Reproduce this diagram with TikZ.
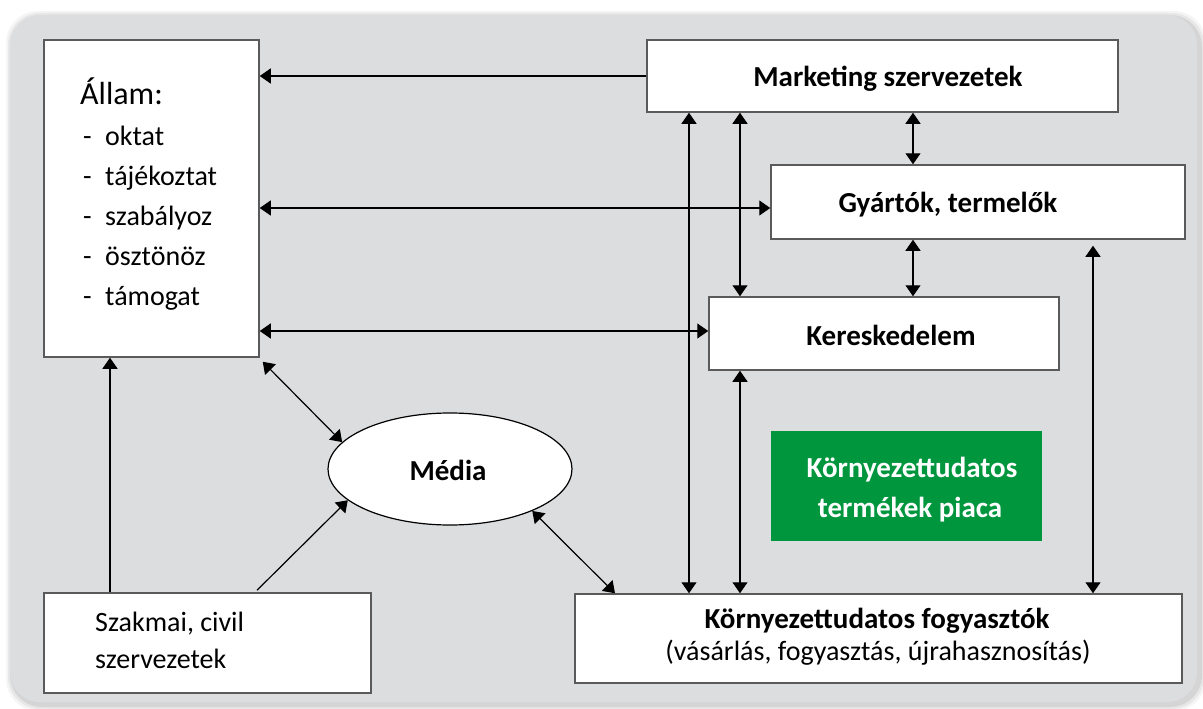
\documentclass[tikz,border=0pt]{standalone}
\usepackage{fontspec}
\setmainfont{Carlito}
\usetikzlibrary{arrows.meta,shapes.geometric}
\definecolor{panelgray}{RGB}{220,221,223}
\definecolor{boxline}{RGB}{90,90,90}
\definecolor{piacgreen}{RGB}{0,150,62}
\tikzset{
  box/.style={draw=boxline, line width=1.5pt, fill=white, inner sep=0pt},
  arr/.style={line width=1.2pt, -{Triangle[length=11pt,width=15pt]}},
  darr/.style={line width=1.2pt, {Triangle[length=11pt,width=15pt]}-{Triangle[length=11pt,width=15pt]}},
  txt/.style={font=\fontsize{28}{34}\selectfont, inner sep=0pt},
  btxt/.style={font=\fontsize{29}{34}\selectfont\bfseries, inner sep=0pt},
}
\newcommand{\dashitem}[1]{\makebox[22pt][l]{-}#1}

\begin{document}
\begin{tikzpicture}[x=1pt, y=-1pt]
\useasboundingbox (0,0) rectangle (1203,709);

% panel with soft shadow
\foreach \s/\o in {7/0.04,5/0.06,3/0.08}
  \fill[black, opacity=\o, rounded corners=32pt] (10-\s+3,15-\s+3) rectangle (1197+\s+2,702+\s+2);
\fill[panelgray, rounded corners=30pt] (10,15) rectangle (1197,702);

% boxes
\node[box, minimum width=215pt, minimum height=317pt] (allam) at (151.5,198.5) {};
\node[box, minimum width=471pt, minimum height=72pt] (mark) at (882.5,76) {};
\node[box, minimum width=414pt, minimum height=74pt] (gyart) at (978,202) {};
\node[box, minimum width=350pt, minimum height=73pt] (keres) at (884,333.5) {};
\node[fill=piacgreen, inner sep=0pt, minimum width=271pt, minimum height=110pt] (piac) at (906.5,486) {};
\node[box, ellipse, draw=black, line width=1.2pt, minimum width=244pt, minimum height=112pt] (media) at (450,469) {};
\node[box, minimum width=327pt, minimum height=100pt] (szak) at (207.5,643) {};
\node[box, minimum width=607pt, minimum height=89pt] (fogy) at (878.5,638.5) {};

% texts
\node[txt, font=\fontsize{32}{38}\selectfont, anchor=base west] (allam-t) at (80,105) {Állam:};
\node[txt, anchor=base west] (allam-1) at (83,145) {\dashitem{oktat}};
\node[txt, anchor=base west] (allam-2) at (83,185) {\dashitem{tájékoztat}};
\node[txt, anchor=base west] (allam-3) at (83,225) {\dashitem{szabályoz}};
\node[txt, anchor=base west] (allam-4) at (83,265) {\dashitem{ösztönöz}};
\node[txt, anchor=base west] (allam-5) at (83,305) {\dashitem{támogat}};

\node[btxt, anchor=base] (mark-t) at (888,87) {Marketing szervezetek};
\node[btxt, anchor=base] (gyart-t) at (948,212) {Gyártók, termelők};
\node[btxt, anchor=base] (keres-t) at (891,345) {Kereskedelem};
\node[btxt, anchor=base] (media-t) at (448,480) {Média};
\node[btxt, anchor=base, text=white] (piac-t1) at (912,477) {Környezettudatos};
\node[btxt, anchor=base, text=white] (piac-t2) at (910,517) {termékek piaca};
\node[btxt, anchor=base] (fogy-t1) at (877,628) {Környezettudatos fogyasztók};
\node[txt, anchor=base] (fogy-t2) at (878,660) {(vásárlás, fogyasztás, újrahasznosítás)};
\node[txt, anchor=base west] (szak-t1) at (95,631) {Szakmai, civil};
\node[txt, anchor=base west] (szak-t2) at (95,668) {szervezetek};

% connectors
\draw[arr] (mark.west) -- (allam.east |- mark.west);
\draw[darr] (allam.east |- 0,208) -- (gyart.west |- 0,208);
\draw[darr] (allam.east |- 0,331) -- (keres.west |- 0,331);
\draw[darr] ([shift={(3,4)}]allam.south east) -- (media.166.5);
\draw[arr] (szak.north -| 110,0) -- (allam.south -| 110,0);
\draw[arr] ([yshift=2pt]szak.north -| 257,0) -- (media.197.6);
\draw[darr] (media.333.7) -- (fogy.north -| 615,0);
\draw[darr] (fogy.north -| 689,0) -- (mark.south -| 689,0);
\draw[darr] (mark.south -| 740,0) -- (keres.north -| 740,0);
\draw[darr] (keres.south -| 740,0) -- (fogy.north -| 740,0);
\draw[darr] (mark.south -| 913,0) -- (gyart.north -| 913,0);
\draw[darr] (gyart.south -| 913,0) -- (keres.north -| 913,0);
\draw[darr] ([yshift=-6pt]gyart.south -| 1093,0) -- (fogy.north -| 1093,0);
\end{tikzpicture}
\end{document}
